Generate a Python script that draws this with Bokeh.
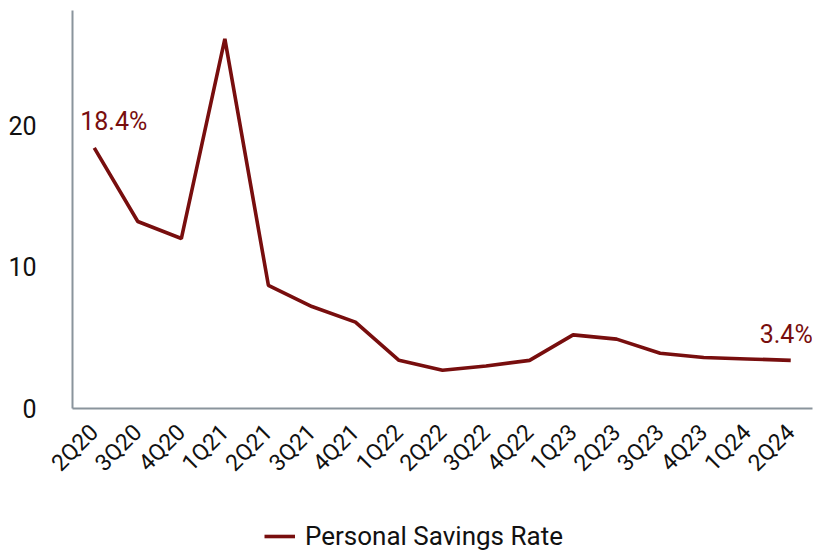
import math
from bokeh.plotting import figure
from bokeh.layouts import column
from bokeh.models import (ColumnDataSource, FactorRange, Range1d, FixedTicker,
                          Legend, LegendItem, LabelSet)
from bokeh.core.properties import value
from bokeh.embed import file_html
from bokeh.resources import INLINE

quarters = ["2Q20", "3Q20", "4Q20", "1Q21", "2Q21", "3Q21", "4Q21", "1Q22",
            "2Q22", "3Q22", "4Q22", "1Q23", "2Q23", "3Q23", "4Q23", "1Q24", "2Q24"]
savings_rate = [18.4, 13.2, 12.0, 26.1, 8.7, 7.2, 6.1, 3.4,
                2.7, 3.0, 3.4, 5.2, 4.9, 3.9, 3.6, 3.5, 3.4]
series_name = "Personal Savings Rate"
y_ticks = [0, 10, 20]

LINE = "#780e0e"
AXIS = "#8a949c"
FONT = "Roboto"

p = figure(width=830, height=500, output_backend="svg", toolbar_location=None,
           x_range=FactorRange(*quarters, range_padding=0),
           y_range=Range1d(0, 28.1),
           min_border_left=72, min_border_right=18, min_border_top=10,
           min_border_bottom=92)
p.outline_line_color = None
p.xgrid.visible = False
p.ygrid.visible = False

src = ColumnDataSource(dict(q=quarters, v=savings_rate))
r = p.line("q", "v", source=src, line_color=LINE, line_width=3.6)

# end labels
first = ColumnDataSource(dict(q=[quarters[0]], v=[savings_rate[0]],
                              t=[f"{savings_rate[0]:.1f}%"]))
last = ColumnDataSource(dict(q=[quarters[-1]], v=[savings_rate[-1]],
                             t=[f"{savings_rate[-1]:.1f}%"]))
p.add_layout(LabelSet(x="q", y="v", text="t", source=first, x_offset=-14, y_offset=26,
                      text_align="left", text_baseline="middle",
                      text_color=LINE, text_font=value(FONT), text_font_size="25px"))
p.add_layout(LabelSet(x="q", y="v", text="t", source=last, x_offset=22, y_offset=26,
                      text_align="right", text_baseline="middle",
                      text_color=LINE, text_font=value(FONT), text_font_size="25px"))

# axes
for ax in (p.xaxis[0], p.yaxis[0]):
    ax.axis_line_color = AXIS
    ax.axis_line_width = 2
    ax.major_tick_line_color = None
    ax.minor_tick_line_color = None
    ax.major_label_text_font = FONT
    ax.major_label_text_color = "#111111"

p.yaxis.ticker = FixedTicker(ticks=y_ticks)
p.yaxis.major_label_text_font_size = "25px"
p.yaxis.major_label_standoff = 30

p.xaxis.major_label_orientation = math.pi / 4
p.xaxis.major_label_text_font_size = "23px"
p.xaxis.major_label_standoff = 14

# legend strip below the chart (same series, drawn outside the strip's visible range)
lg = figure(width=830, height=53, output_backend="svg", toolbar_location=None,
            x_range=FactorRange(*quarters, range_padding=0), y_range=Range1d(1000, 1001),
            min_border_left=0, min_border_right=0, min_border_top=0, min_border_bottom=0)
lg.axis.visible = False
lg.grid.visible = False
lg.outline_line_color = None
lr = lg.line("q", "v", source=src, line_color=LINE, line_width=3.6)
legend = Legend(items=[LegendItem(label=series_name, renderers=[lr])],
                orientation="horizontal", location=(192, 2),
                label_text_font=FONT, label_text_font_size="26px",
                label_text_color="#111111", glyph_width=31, label_standoff=10,
                border_line_color=None, background_fill_alpha=0,
                margin=0, padding=0)
lg.add_layout(legend, "center")

layout = column(p, lg, spacing=0)
open("out.html", "w").write(file_html(layout, INLINE))
